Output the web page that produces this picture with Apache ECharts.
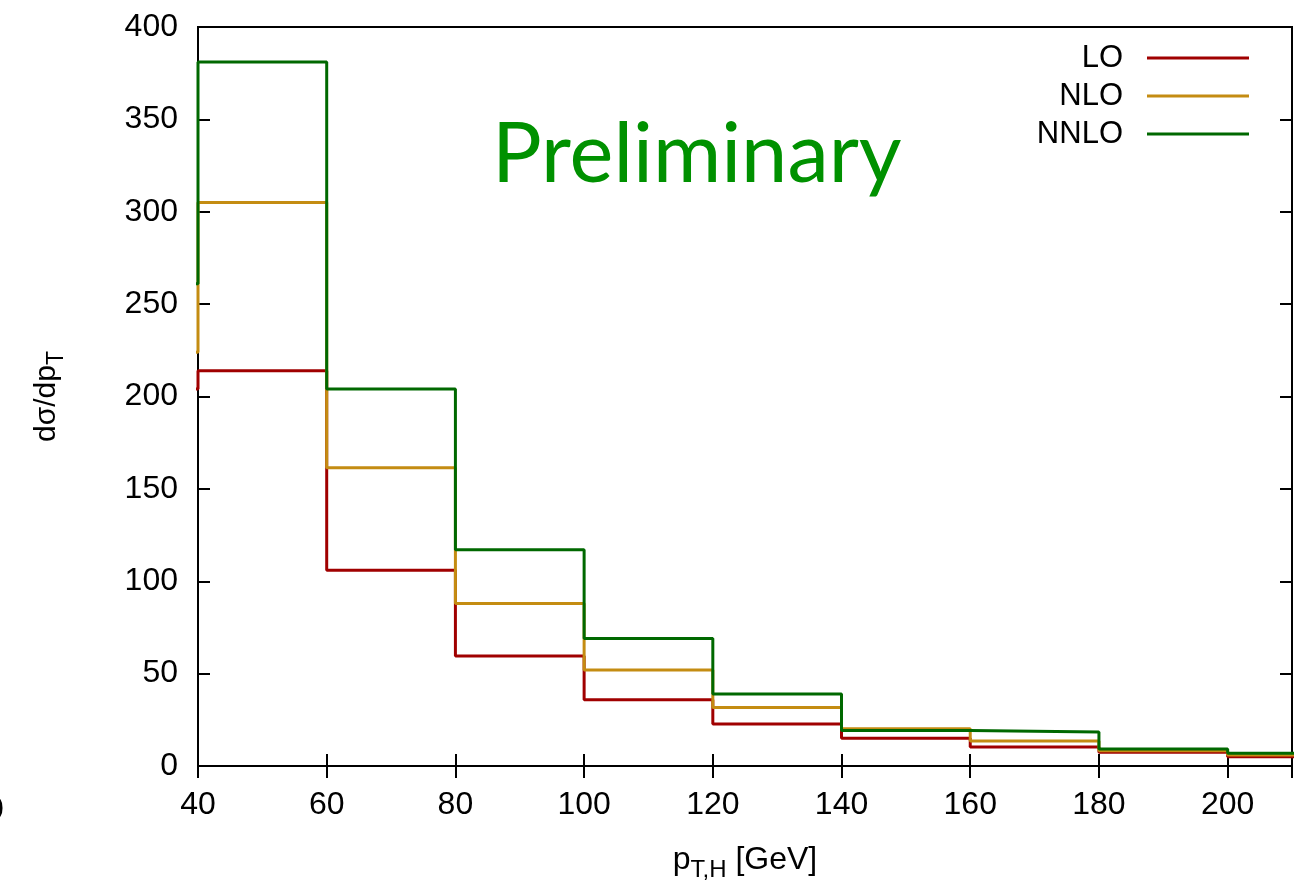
<!DOCTYPE html>
<html>
<head>
<meta charset="utf-8">
<script src="https://cdn.jsdelivr.net/npm/echarts@6/dist/echarts.min.js"></script>
<style>
  html, body { margin: 0; padding: 0; background: #fff; }
  #chart { width: 1304px; height: 880px; }
</style>
</head>
<body>
<div id="chart"></div>
<script>
// bin edges in pT,H (GeV); the first bin is only seen as the step at x=40
const BIN_EDGES = [20, 40, 60, 80, 100, 120, 140, 160, 180, 200, 220];
const LO_VALUES = [204, 214, 106, 59.6, 35.8, 22.8, 15.0, 10.3, 7.4, 5.0];
const NLO_VALUES = [224, 305, 161.5, 88, 52, 31.7, 20.1, 13.5, 8.3, 6.0];
const NNLO_VALUES = [261, 381, 204, 117, 69, 39, 19.2, 18.4, 9.2, 6.9];
const SERIES_NAMES = ['LO', 'NLO', 'NNLO'];
const COLORS = ['#a00000', '#c48c12', '#006800'];
const X_TICKS = { min: 40, max: 210, step: 20 };
const Y_TICKS = { min: 0, max: 400, step: 50 };

const FONT = '"Liberation Sans", Arial, Helvetica, sans-serif';

function histPoints(values) {
    const pts = values.map((v, i) => [BIN_EDGES[i], v]);
    pts.push([BIN_EDGES[values.length], values[values.length - 1]]);
    return pts;
}

function stepSeries(name, values, color) {
    return {
        name,
        type: 'line',
        step: 'end',
        data: histPoints(values),
        showSymbol: false,
        symbol: 'none',
        clip: true,
        lineStyle: { color, width: 3 },
        itemStyle: { color },
        emphasis: { disabled: true },
        animation: false,
    };
}

const tick = { show: true, inside: true, length: 12, lineStyle: { color: '#000', width: 2 } };
const line = { show: true, lineStyle: { color: '#000', width: 2 } };

const chart = echarts.init(document.getElementById('chart'), null, { renderer: 'canvas' });

chart.setOption({
    backgroundColor: '#fff',
    animation: false,
    textStyle: { fontFamily: FONT },
    grid: {
        left: 198, right: 12, top: 27, bottom: 114,
        outerBoundsMode: 'none', containLabel: false,
        show: true, borderColor: '#000', borderWidth: 2,
    },
    legend: {
        data: SERIES_NAMES,
        orient: 'vertical',
        right: 50,
        top: 36,
        align: 'right',
        icon: 'rect',
        itemWidth: 102,
        itemHeight: 3,
        itemGap: 4,
        textStyle: { fontSize: 31, color: '#000', fontFamily: FONT, padding: [0, 19, 0, 0], lineHeight: 34 },
    },
    xAxis: [{
        type: 'value',
        min: X_TICKS.min,
        max: X_TICKS.max,
        interval: X_TICKS.step,
        axisLine: line,
        axisTick: tick,
        splitLine: { show: false },
        axisLabel: {
            fontSize: 32, color: '#000', margin: 23, fontFamily: FONT,
            formatter: v => (v % 20 === 0 ? String(v) : ''),
        },
        name: 'p{sub|T,H} [GeV]',
        nameLocation: 'middle',
        nameGap: 72,
        nameTextStyle: {
            fontSize: 32, color: '#000', fontFamily: FONT, lineHeight: 44,
            rich: { sub: { fontSize: 24, lineHeight: 24, verticalAlign: 'bottom', fontFamily: FONT, color: '#000' } },
        },
    }, {
        type: 'value',
        position: 'top',
        min: X_TICKS.min,
        max: X_TICKS.max,
        interval: X_TICKS.step,
        axisLine: line,
        axisTick: tick,
        axisLabel: { show: false },
        splitLine: { show: false },
    }],
    yAxis: [{
        type: 'value',
        min: Y_TICKS.min,
        max: Y_TICKS.max,
        interval: Y_TICKS.step,
        axisLine: line,
        axisTick: tick,
        splitLine: { show: false },
        axisLabel: { fontSize: 32, color: '#000', margin: 20, fontFamily: FONT },
        name: 'dσ/dp{sub|T}',
        nameLocation: 'middle',
        nameGap: 130,
        nameTextStyle: {
            fontSize: 30, color: '#000', fontFamily: FONT, lineHeight: 42,
            rich: { sub: { fontSize: 23, lineHeight: 23, verticalAlign: 'bottom', fontFamily: FONT, color: '#000' } },
        },
    }, {
        type: 'value',
        position: 'right',
        min: Y_TICKS.min,
        max: Y_TICKS.max,
        interval: Y_TICKS.step,
        axisLine: line,
        axisTick: tick,
        axisLabel: { show: false },
        splitLine: { show: false },
    }],
    graphic: [{
        type: 'text',
        left: 492,
        top: 114,
        silent: true,
        style: { text: 'Preliminary', fill: '#009100', font: '83px Lato, "Open Sans", sans-serif' },
    }, {
        // stray clipped label at the far left edge of the original figure
        type: 'text',
        left: -14,
        top: 794,
        silent: true,
        style: { text: '0', fill: '#000', font: '32px ' + FONT },
    }],
    series: [
        stepSeries(SERIES_NAMES[0], LO_VALUES, COLORS[0]),
        stepSeries(SERIES_NAMES[1], NLO_VALUES, COLORS[1]),
        stepSeries(SERIES_NAMES[2], NNLO_VALUES, COLORS[2]),
    ],
});

window.addEventListener('resize', () => chart.resize());
</script>
</body>
</html>
